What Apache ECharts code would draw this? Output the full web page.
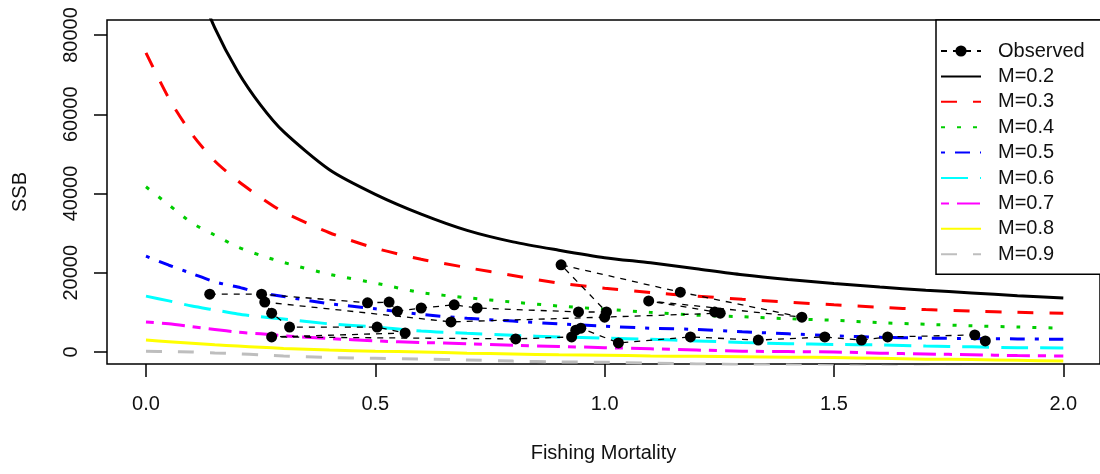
<!DOCTYPE html>
<html>
<head>
<meta charset="utf-8">
<script src="https://cdn.jsdelivr.net/npm/echarts@6/dist/echarts.min.js"></script>
<style>
  html, body { margin: 0; padding: 0; background: #fff; }
  #main { width: 1100px; height: 474px; }
</style>
</head>
<body>
<div id="main"></div>
<script>
// fishing mortality grid used by the model curves
const fGrid = [0, 0.05, 0.1, 0.15, 0.2, 0.25, 0.3, 0.4, 0.5, 0.6, 0.7, 0.8, 0.9, 1.0, 1.1, 1.2, 1.3, 1.4, 1.5, 1.6, 1.7, 1.8, 1.9, 2.0];

// SSB curves for each natural mortality
const ssbM02 = [null, null, 96000, 81800, 70800, 62300, 55600, 46000, 39800, 34800, 30700, 27800, 25700, 23800, 22500, 21000, 19500, 18300, 17300, 16400, 15600, 14900, 14200, 13600];
const ssbM03 = [75500, 64000, 55000, 48200, 43200, 39000, 35300, 30100, 26200, 23400, 21300, 19300, 17400, 16100, 15000, 14100, 13300, 12600, 11900, 11300, 10700, 10300, 10000, 9800];
const ssbM04 = [41700, 37100, 32600, 29500, 26500, 24400, 22600, 19600, 17400, 15000, 13700, 12600, 11600, 10800, 10000, 9300, 8900, 8400, 8000, 7400, 7000, 6600, 6300, 6000];
const ssbM05 = [24200, 21900, 19800, 17700, 16400, 14900, 14000, 12200, 10900, 9500, 8500, 7800, 7100, 6500, 6000, 5700, 5100, 4600, 4100, 3700, 3500, 3400, 3300, 3200];
const ssbM06 = [14100, 12900, 11600, 10600, 9600, 8900, 8300, 7100, 6300, 5300, 4700, 4200, 3800, 3500, 3200, 2800, 2400, 2100, 1900, 1800, 1500, 1300, 1100, 1000];
const ssbM07 = [7600, 7100, 6400, 5700, 5000, 4600, 4100, 3400, 2800, 2400, 2100, 1700, 1400, 1100, 800, 500, 200, 100, 0, -300, -500, -700, -900, -1000];
const ssbM08 = [3000, 2600, 2200, 1800, 1500, 1200, 900, 500, 200, 0, -300, -500, -700, -800, -1000, -1100, -1200, -1300, -1400, -1600, -1800, -1900, -2100, -2300];
const ssbM09 = [200, 100, 0, -250, -450, -750, -1000, -1400, -1600, -1800, -2000, -2300, -2500, -2600, -2800, -3000, -3200, -3300, -3500, -3600, -3800, -3900, -4100, -4200];

// observed F / SSB time series
const obsF = [0.139, 0.252, 0.483, 0.53, 0.548, 0.6, 0.672, 0.722, 0.943, 1.004, 0.905, 1.165, 1.43, 1.096, 1.24, 1.252, 1.0, 0.665, 0.259, 0.274, 0.313, 0.504, 0.565, 0.274, 0.806, 0.928, 0.937, 0.948, 1.03, 1.187, 1.335, 1.48, 1.56, 1.617, 1.807, 1.83];
const obsSSB = [14600, 14600, 12400, 12600, 10300, 11100, 11900, 11100, 10100, 10100, 22000, 15100, 8800, 12900, 10100, 9800, 8800, 7600, 12600, 9800, 6300, 6300, 4800, 3800, 3300, 3800, 5500, 6000, 2300, 3800, 3000, 3800, 3000, 3800, 4300, 2800];

const xTicks = [0, 0.5, 1.0, 1.5, 2.0];
const yTicks = [0, 20000, 40000, 60000, 80000];

const curveNames = ["M=0.2", "M=0.3", "M=0.4", "M=0.5", "M=0.6", "M=0.7", "M=0.8", "M=0.9"];
const curveData = [ssbM02, ssbM03, ssbM04, ssbM05, ssbM06, ssbM07, ssbM08, ssbM09];
const curveColors = ["#000000", "#ff0000", "#00cd00", "#0000ff", "#00ffff", "#ff00ff", "#ffff00", "#bebebe"];
const curveDash = ["solid", [16, 16], [4, 12], [4, 10, 15, 10], [27, 12], [8, 8, 23, 8], "solid", [16, 16]];

(() => {
  let myChart = echarts.init(document.querySelector("#main"));
  const font = "Liberation Sans, Arial, sans-serif";

  let series = curveNames.map((name, i) => ({
    name: name,
    type: "line",
    data: fGrid.map((f, j) => [f, curveData[i][j]]),
    symbol: "none",
    smooth: 0.25,
    clip: true,
    lineStyle: { color: curveColors[i], width: 3, type: curveDash[i] },
    // transparent so the legend shows only the line
    itemStyle: { color: "rgba(0,0,0,0)", borderWidth: 0 },
    z: 2,
  }));

  series.push({
    name: "Observed",
    type: "line",
    data: obsF.map((f, i) => [f, obsSSB[i]]),
    symbol: "circle",
    symbolSize: 11,
    lineStyle: { color: "#000", width: 1.3, type: [6, 6] },
    itemStyle: { color: "#000" },
    z: 3,
  });

  let option = {
    backgroundColor: "#fff",
    animation: false,
    grid: {
      left: 107,
      top: 20,
      width: 996,
      height: 344,
      show: true,
      borderColor: "#000",
      borderWidth: 1.5,
    },
    xAxis: {
      type: "value",
      min: -0.085,
      max: 2.08,
      name: "Fishing Mortality",
      nameLocation: "middle",
      nameGap: 79,
      nameTextStyle: { fontFamily: font, fontSize: 20, color: "#111" },
      axisLine: { show: false, onZero: false },
      splitLine: { show: false },
      axisTick: {
        customValues: xTicks,
        length: 13,
        lineStyle: { color: "#000", width: 1.5 },
      },
      axisLabel: {
        customValues: xTicks,
        margin: 30,
        fontFamily: font,
        fontSize: 20,
        color: "#111",
        formatter: (v) => v.toFixed(1),
      },
    },
    yAxis: {
      type: "value",
      min: -3030,
      max: 83790,
      name: "SSB",
      nameLocation: "middle",
      nameGap: 77,
      nameTextStyle: { fontFamily: font, fontSize: 20, color: "#111" },
      axisLine: { show: false, onZero: false },
      splitLine: { show: false },
      axisTick: {
        customValues: yTicks,
        length: 13,
        lineStyle: { color: "#000", width: 1.5 },
      },
      axisLabel: {
        customValues: yTicks,
        rotate: 90,
        margin: 26,
        fontFamily: font,
        fontSize: 20,
        color: "#111",
        formatter: (v) => String(v),
      },
    },
    legend: {
      orient: "vertical",
      left: 936,
      top: 20,
      data: ["Observed"].concat(curveNames),
      itemWidth: 40,
      itemHeight: 14,
      itemGap: 5.4,
      padding: [21, 20, 10, 4],
      backgroundColor: "#fff",
      borderColor: "#000",
      borderWidth: 1.5,
      borderRadius: 0,
      textStyle: {
        fontFamily: font,
        fontSize: 20,
        color: "#111",
        padding: [0, 0, 0, 12],
      },
    },
    series: series,
  };
  myChart.setOption(option);
  window.addEventListener("resize", () => {
    myChart.resize();
  });
})();
</script>
</body>
</html>
